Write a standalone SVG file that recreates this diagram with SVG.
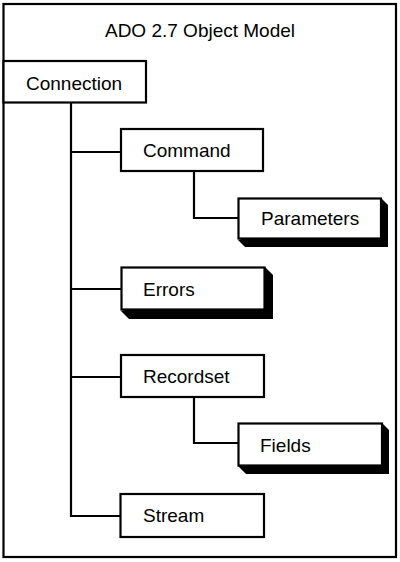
<svg xmlns="http://www.w3.org/2000/svg" width="400" height="562" viewBox="0 0 400 562">
<style>
  .box { fill: #fff; stroke: #000; stroke-width: 2.2; }
  .shadow { fill: #000; stroke: none; }
  .lbl { font-family: "Liberation Sans", Arial, Helvetica, sans-serif; font-size: 19px; fill: #000; }
  .conn { fill: none; stroke: #000; stroke-width: 2.2; }
</style>
<rect x="0" y="0" width="400" height="562" fill="#fff"/>
<rect id="frame" x="3.5" y="4" width="392.5" height="553" fill="#fff" stroke="#000" stroke-width="2.2"/>
<text class="lbl" x="200" y="37" text-anchor="middle">ADO 2.7 Object Model</text>
<g id="connectors">
  <polyline class="conn" points="71,102 71,516 121,516"/>
  <line class="conn" x1="71" y1="152" x2="121" y2="152"/>
  <line class="conn" x1="71" y1="289" x2="121" y2="289"/>
  <line class="conn" x1="71" y1="377" x2="121" y2="377"/>
  <polyline class="conn" points="194,171 194,218 238,218"/>
  <polyline class="conn" points="194,397 194,443 238,443"/>
</g>
<g id="connection">
  <rect class="box" x="3.5" y="61" width="142.5" height="41.5"/>
  <text class="lbl" x="26" y="90">Connection</text>
</g>
<g id="command">
  <rect class="box" x="121" y="129" width="142" height="42"/>
  <text class="lbl" x="143" y="157">Command</text>
</g>
<g id="parameters">
  <polygon class="shadow" points="381,198 388,205 388,247 245,247 238,240"/>
  <rect class="box" x="238.5" y="198.5" width="142.5" height="40"/>
  <text class="lbl" x="261" y="225">Parameters</text>
</g>
<g id="errors">
  <polygon class="shadow" points="265,267 273,275 273,319 129,319 121,311"/>
  <rect class="box" x="121.5" y="267.5" width="143" height="42"/>
  <text class="lbl" x="143" y="296">Errors</text>
</g>
<g id="recordset">
  <rect class="box" x="121" y="355" width="143" height="42"/>
  <text class="lbl" x="143" y="383">Recordset</text>
</g>
<g id="fields">
  <polygon class="shadow" points="382,423 389,430 389,474 246,474 238,466"/>
  <rect class="box" x="238.5" y="423.5" width="143.5" height="42"/>
  <text class="lbl" x="260" y="452">Fields</text>
</g>
<g id="stream">
  <rect class="box" x="120.5" y="494" width="143.5" height="43"/>
  <text class="lbl" x="143" y="522">Stream</text>
</g>
</svg>
